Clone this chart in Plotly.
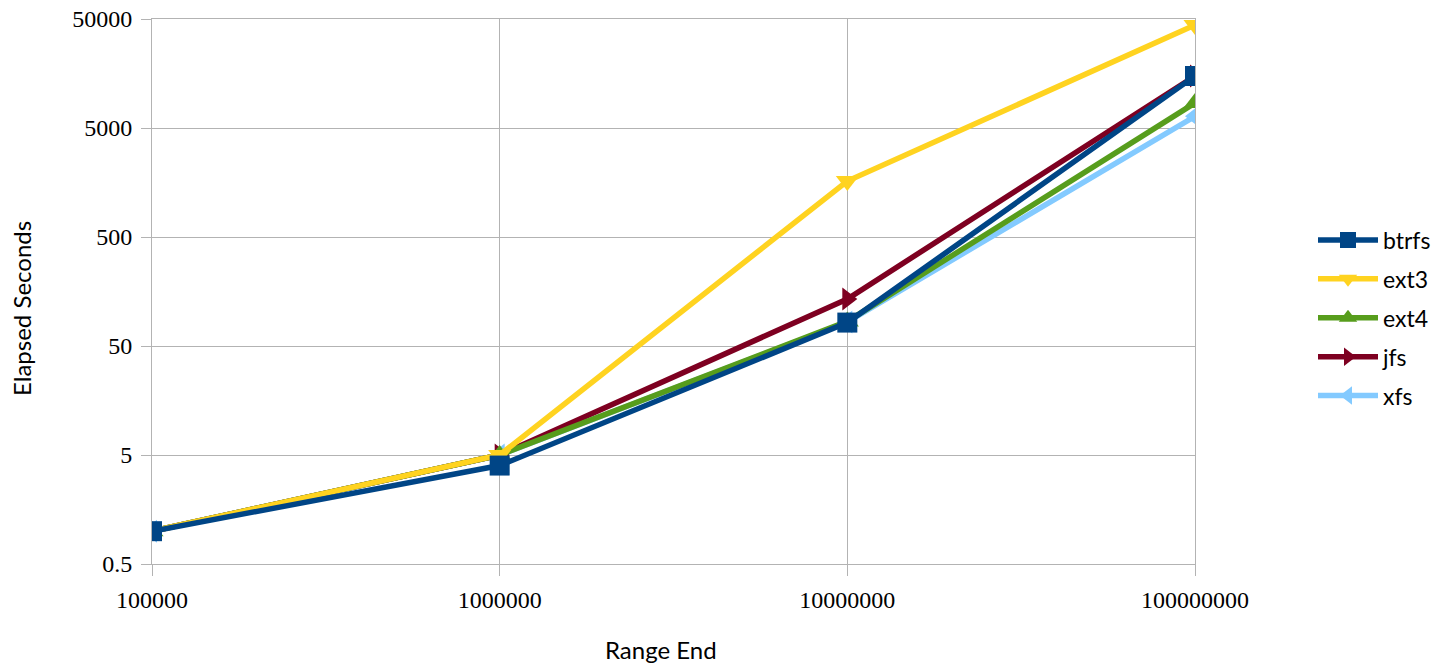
import math
import plotly.graph_objects as go

range_end = [100000, 1000000, 10000000, 100000000]
btrfs = [1.0, 4.0, 82, 15000]
ext3 = [1.0, 5.0, 1630, 44000]
ext4 = [1.0, 5.0, 84, 8500]
jfs = [1.0, 5.0, 135, 15000]
xfs = [1.0, 5.0, 83, 6400]

y_ticks = [0.5, 5, 50, 500, 5000, 50000]
y_ticktext = ["0.5", "5", "50", "500", "5000", "50000"]
x_ticktext = ["100000", "1000000", "10000000", "100000000"]

# drawn bottom-to-top; legendrank sets legend order
series = [
    ("xfs", xfs, "#83caff", "triangle-left", 20, 5),
    ("jfs", jfs, "#7e0021", "triangle-right", 20, 4),
    ("ext4", ext4, "#579d1c", "triangle-up", 20, 3),
    ("ext3", ext3, "#ffd320", "triangle-down", 20, 2),
    ("btrfs", btrfs, "#004586", "square", 20, 1),
]

fig = go.Figure()
for name, vals, color, sym, size, rank in series:
    fig.add_trace(go.Scatter(
        x=range_end, y=vals, name=name, mode="lines+markers",
        legendgroup=name, legendrank=rank,
        line=dict(color=color, width=5.5),
        marker=dict(symbol=sym, size=size, color=color, line=dict(width=0)),
    ))

grid = "#b3b3b3"
tick_font = dict(family="Liberation Serif", size=24, color="#000000")
fig.update_layout(
    width=1447, height=665,
    margin=dict(l=152, r=252, t=19, b=101, autoexpand=False),
    paper_bgcolor="white", plot_bgcolor="white",
    showlegend=True,
    legend=dict(
        xref="container", yref="container",
        x=1313 / 1447, y=1 - 318 / 665, xanchor="left", yanchor="middle",
        font=dict(family="Lato", size=23, color="#000000"),
        traceorder="grouped", tracegroupgap=6,
        itemwidth=60, bgcolor="rgba(0,0,0,0)",
    ),
    xaxis=dict(
        type="log", range=[5, 8], automargin=False,
        tickvals=range_end, ticktext=x_ticktext,
        showgrid=True, gridcolor=grid, gridwidth=1,
        ticks="outside", ticklen=11, tickcolor=grid,
        ticklabelstandoff=3,
        showline=True, linecolor=grid, linewidth=1, mirror=True,
        tickfont=tick_font, zeroline=False,
    ),
    yaxis=dict(
        type="log", range=[math.log10(0.5), math.log10(50000)], automargin=False,
        tickvals=y_ticks, ticktext=y_ticktext,
        showgrid=True, gridcolor=grid, gridwidth=1,
        ticks="outside", ticklen=10, tickcolor=grid,
        ticklabelstandoff=4,
        showline=True, linecolor=grid, linewidth=1, mirror=True,
        tickfont=tick_font, zeroline=False,
    ),
    annotations=[
        dict(text="Range End", xref="paper", yref="paper",
             x=(661 - 152) / 1043, y=(564 - 649) / 545,
             xanchor="center", yanchor="middle", showarrow=False,
             font=dict(family="Lato", size=24, color="#000000")),
        dict(text="Elapsed Seconds", xref="paper", yref="paper",
             x=(22 - 152) / 1043, y=(564 - 309) / 545, textangle=-90,
             xanchor="center", yanchor="middle", showarrow=False,
             font=dict(family="Lato", size=24, color="#000000")),
    ],
)

fig.write_html("out.html", config={"displayModeBar": False},
               post_script="document.body.style.margin='0px';")
